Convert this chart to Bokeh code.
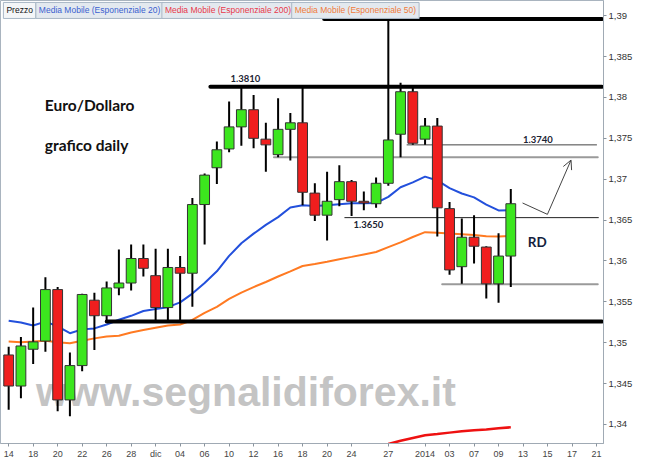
from bokeh.plotting import figure
from bokeh.models import ColumnDataSource, FixedTicker, Label, Arrow, OpenHead, Range1d
from bokeh.core.properties import value
from bokeh.embed import file_html
from bokeh.resources import INLINE

# ---------------- data ----------------
opens = [1.3485, 1.3447, 1.3492, 1.3502, 1.3565, 1.3430, 1.3472, 1.3552, 1.3533, 1.3567,
         1.3573, 1.3603, 1.3582, 1.3543, 1.3592, 1.3585, 1.3669, 1.3714, 1.3737, 1.3764,
         1.3785, 1.3749, 1.3730, 1.3761, 1.3769, 1.3683, 1.3656, 1.3675, 1.3697, 1.3673,
         1.3670, 1.3695, 1.3755, 1.3807, 1.3749, 1.3765, 1.3664, 1.3593, 1.3629, 1.3617,
         1.3572, 1.3606]
highs = [1.3495, 1.3507, 1.3543, 1.3580, 1.3568, 1.3488, 1.3560, 1.3561, 1.3575, 1.3614,
         1.3620, 1.3620, 1.3615, 1.3615, 1.3606, 1.3677, 1.3707, 1.3746, 1.3795, 1.3812,
         1.3803, 1.3769, 1.3799, 1.3781, 1.3813, 1.3695, 1.3709, 1.3717, 1.3699, 1.3685,
         1.3702, 1.3896, 1.3818, 1.3814, 1.3775, 1.3775, 1.3672, 1.3652, 1.3656, 1.3618,
         1.3634, 1.3688]
lows = [1.3418, 1.3432, 1.3474, 1.3489, 1.3416, 1.3410, 1.3465, 1.3491, 1.3526, 1.3558,
        1.3564, 1.3581, 1.3527, 1.3527, 1.3527, 1.3544, 1.3620, 1.3694, 1.3733, 1.3741,
        1.3738, 1.3709, 1.3727, 1.3723, 1.3668, 1.3649, 1.3625, 1.3667, 1.3655, 1.3662,
        1.3665, 1.3692, 1.3727, 1.3742, 1.3742, 1.3630, 1.3583, 1.3572, 1.3597, 1.3554,
        1.3549, 1.3568]
closes = [1.3447, 1.3496, 1.3501, 1.3565, 1.3430, 1.3472, 1.3559, 1.3533, 1.3567, 1.3573,
          1.3603, 1.3591, 1.3543, 1.3592, 1.3585, 1.3669, 1.3705, 1.3736, 1.3764, 1.3785,
          1.3750, 1.3742, 1.3761, 1.3769, 1.3684, 1.3656, 1.3673, 1.3697, 1.3673, 1.3671,
          1.3695, 1.3748, 1.3807, 1.3744, 1.3765, 1.3665, 1.3589, 1.3629, 1.3618, 1.3572,
          1.3606, 1.3670]

ema20 = [1.35269, 1.35246, 1.35210, 1.35258, 1.35199, 1.35116, 1.35163, 1.35175, 1.35222, 1.35281,
         1.35329, 1.35388, 1.35411, 1.35435, 1.35494, 1.35601, 1.35731, 1.35873, 1.36062, 1.36216,
         1.36334, 1.36441, 1.36536, 1.36654, 1.36681, 1.36672, 1.36681, 1.36695, 1.36707, 1.36707,
         1.36709, 1.36784, 1.36902, 1.36961, 1.37032, 1.36985, 1.36890, 1.36825, 1.36778, 1.36689,
         1.36618, 1.36622]
ema50 = [1.35015, 1.35006, 1.35015, 1.35025, 1.35006, 1.34994, 1.35025, 1.35053, 1.35077, 1.35084,
         1.35124, 1.35155, 1.35183, 1.35210, 1.35222, 1.35278, 1.35364, 1.35439, 1.35536, 1.35613,
         1.35680, 1.35743, 1.35810, 1.35873, 1.35938, 1.35962, 1.35991, 1.36021, 1.36050, 1.36080,
         1.36110, 1.36169, 1.36228, 1.36293, 1.36352, 1.36346, 1.36337, 1.36327, 1.36317, 1.36302,
         1.36299, 1.36305]
nan = float("nan")
ema200 = [nan] * 31 + [1.33760, 1.33800, 1.33835, 1.33867, 1.33882, 1.33900, 1.33917, 1.33929,
                       1.33939, 1.33953, 1.33965]

x_tick_pos = [0, 2, 4, 6, 8, 10, 12, 14, 16, 18, 20, 22, 24, 26, 28, 31, 34, 36, 38, 40, 42, 44, 46, 48]
x_tick_labels = ["14", "18", "20", "22", "26", "28", "dic", "04", "06", "10", "12", "16", "18",
                 "20", "24", "27", "2014", "03", "07", "09", "13", "15", "17", "21"]
y_ticks = [1.34, 1.345, 1.35, 1.355, 1.36, 1.365, 1.37, 1.375, 1.38, 1.385, 1.39]
y_tick_labels = ["1,34", "1,345", "1,35", "1,355", "1,36", "1,365", "1,37", "1,375", "1,38",
                 "1,385", "1,39"]

levels = [1.3896, 1.3813, 1.3742, 1.3727, 1.3653, 1.35715, 1.3526]
level_start = [25.76, 16.47, 32.53, 21.66, 27.45, 35.4, 8.01]
level_end = [48.45, 48.45, 48.0, 48.1, 48.15, 48.1, 48.45]
level_width = [4, 4, 1, 2, 1, 2, 4]
level_color = ["#000000", "#000000", "#444444", "#9a9a9a", "#222222", "#9a9a9a", "#000000"]

level_labels = ["1.3810", "1.3650", "1.3740"]
level_label_x = [19.33, 29.37, 43.21]
level_label_y = [1.38231, 1.36444, 1.3749]

arrow_x = [41.96, 43.99, 45.92]
arrow_y = [1.36709, 1.36570, 1.37234]

# ---------------- figure ----------------
n = len(opens)
xs = list(range(n))
inc = [c >= o for o, c in zip(opens, closes)]
src = ColumnDataSource(dict(
    x=xs, high=highs, low=lows,
    top=[max(o, c) for o, c in zip(opens, closes)],
    bottom=[min(o, c) for o, c in zip(opens, closes)],
    color=["#3ce61e" if u else "#f01e1e" for u in inc],
))

Y0, Y1 = 1.33767, 1.39186
p = figure(frame_width=603, frame_height=443, output_backend="svg", toolbar_location=None,
           x_range=Range1d(-0.667, 48.57), y_range=Range1d(Y0, Y1),
           y_axis_location="right", min_border_left=0, min_border_top=0, min_border_right=0,
           min_border_bottom=0)
p.grid.visible = False
p.background_fill_color = "white"
p.border_fill_color = "white"
p.outline_line_color = "#a9b4bf"

# watermark
p.text(x=[2.225], y=[1.34394], text=["www.segnalidiforex.it"], text_font=value("Liberation Sans"),
       text_font_style="bold", text_font_size="41px", text_color="#c4c4c4",
       text_baseline="alphabetic", text_align="left")

# moving averages
p.line(xs, ema50, line_color="#ff7a22", line_width=2)
p.line(xs, ema20, line_color="#2350dc", line_width=2)
p.line(xs, ema200, line_color="#ee1111", line_width=2.5)

# horizontal levels
p.segment(x0=level_start, y0=levels, x1=level_end, y1=levels, line_color=level_color,
          line_width=level_width, line_cap="round")

# candles
p.segment(x0="x", y0="low", x1="x", y1="high", source=src, line_color="black", line_width=2)
p.vbar(x="x", width=0.8, top="top", bottom="bottom", source=src, fill_color="color",
       line_color="#333333", line_width=1)

# labels
p.text(x=level_label_x, y=level_label_y, text=level_labels, text_font=value("Lato"),
       text_font_style="bold", text_font_size="9.5px", text_color="#1c2433",
       text_align="center", text_baseline="middle")
p.text(x=[2.95, 2.95], y=[1.37913, 1.37423], text=["Euro/Dollaro", "grafico daily"],
       text_font=value("Lato"), text_font_style="bold", text_font_size="15.5px",
       text_color="#111111", text_align="left", text_baseline="middle")
p.text(x=[43.16], y=[1.36236], text=["RD"], text_font=value("Lato"), text_font_style="bold",
       text_font_size="13.5px", text_color="#14213d", text_align="center", text_baseline="middle")

# arrow
p.line(arrow_x[:2], arrow_y[:2], line_color="#444444", line_width=1)
p.add_layout(Arrow(end=OpenHead(size=9, line_color="#444444", line_width=1),
                   x_start=arrow_x[1], y_start=arrow_y[1], x_end=arrow_x[2], y_end=arrow_y[2],
                   line_color="#444444", line_width=1))

# legend strip
legend_items = [("Prezzo", "#111111", -0.43, "#f4f6f8"),
                ("Media Mobile (Esponenziale 20)", "#3a5fd0", 2.22, "#e3e9ef"),
                ("Media Mobile (Esponenziale 200)", "#e8384a", 12.51, "#e3e9ef"),
                ("Media Mobile (Esponenziale 50)", "#f07b3a", 23.11, "#e3e9ef")]
for txt, col, lx, bg in legend_items:
    p.add_layout(Label(x=lx, y=1.39162, text=txt, text_color=col, text_font="Liberation Sans",
                       text_font_size="8.5px", text_baseline="top", text_align="left",
                       background_fill_color=bg, border_line_color="#a9b7c6", padding=3))

# axes
ya = p.yaxis[0]
ya.ticker = FixedTicker(ticks=y_ticks)
ya.major_label_overrides = {t: l for t, l in zip(y_ticks, y_tick_labels)}
ya.axis_line_color = "#a0aab4"
ya.major_tick_line_color = "#8a949e"
ya.minor_tick_line_color = None
ya.major_tick_out = 3
ya.major_tick_in = 0
ya.major_label_standoff = 2
ya.major_label_text_font = "Liberation Sans"
ya.major_label_text_font_size = "9.5px"
ya.major_label_text_color = "#333333"

xa = p.xaxis[0]
xa.ticker = FixedTicker(ticks=x_tick_pos)
xa.major_label_overrides = {t: l for t, l in zip(x_tick_pos, x_tick_labels)}
xa.axis_line_color = "#a0aab4"
xa.major_tick_line_color = "#8a949e"
xa.minor_tick_line_color = None
xa.major_tick_out = 3
xa.major_tick_in = 0
xa.major_label_standoff = 2
xa.major_label_text_font = "Liberation Sans"
xa.major_label_text_font_size = "9px"
xa.major_label_text_color = "#444444"

open("out.html", "w").write(file_html(p, INLINE))
